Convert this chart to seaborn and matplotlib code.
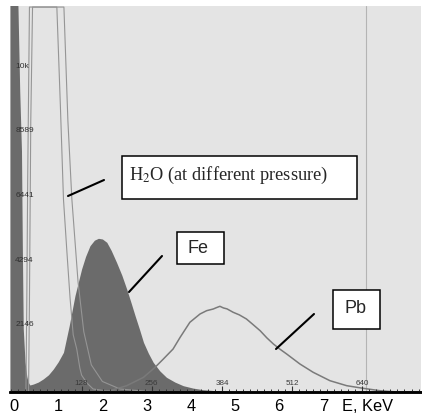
import matplotlib
matplotlib.use('Agg')
import matplotlib.pyplot as plt
from matplotlib.patches import Rectangle
from matplotlib.lines import Line2D
from matplotlib.ticker import MultipleLocator
import seaborn as sns

# Spectra (energy in keV, counts)
fe_kev = [-0.09, 0.05, 0.09, 0.13, 0.17, 0.19, 0.21, 0.25, 0.29, 0.32, 0.36, 0.44, 0.55,
          0.66, 0.78, 0.89, 1.0, 1.12, 1.25, 1.38, 1.53, 1.62, 1.72, 1.82, 1.91, 2.0,
          2.10, 2.2, 2.32, 2.44, 2.55, 2.65, 2.74, 2.84, 2.93, 3.04, 3.15, 3.3, 3.45,
          3.64, 3.83, 4.05, 4.28, 4.6, 5.0, 5.5]
fe_counts = [13500, 13500, 12800, 10000, 8000, 4700, 2100, 1000, 520, 330, 232, 265, 330,
             431, 570, 763, 1000, 1318, 2201, 3197, 4083, 4500, 4857, 5040, 5102, 5080,
             4970, 4700, 4306, 3880, 3419, 2960, 2533, 2080, 1650, 1290, 986, 700, 488,
             330, 209, 130, 76, 40, 15, 0]

h2o_a_kev = [0.33, 0.35, 0.38, 0.42, 0.97, 1.05, 1.12, 1.2, 1.27, 1.34, 1.42, 1.49, 1.53,
             1.65, 1.79, 2.1, 2.6]
h2o_a_counts = [0, 3000, 9000, 12780, 12780, 9500, 6400, 4600, 3100, 1900, 1430, 800, 560,
                300, 100, 30, 0]

h2o_b_kev = [0.27, 0.29, 0.31, 0.35, 1.13, 1.22, 1.31, 1.45, 1.58, 1.75, 2.0, 2.4, 3.0, 3.5]
h2o_b_counts = [0, 3000, 7000, 12780, 12780, 9000, 6400, 3650, 2000, 900, 350, 100, 20, 0]

pb_kev = [1.6, 2.17, 2.55, 2.93, 3.19, 3.38, 3.60, 3.76, 3.98, 4.21, 4.36, 4.51, 4.58,
          4.66, 4.74, 4.82, 4.96, 5.1, 5.26, 5.4, 5.57, 5.72, 5.87, 6.02, 6.17, 6.47,
          6.77, 7.15, 7.53, 7.90, 8.28, 8.66, 9.2]
pb_counts = [0, 43, 209, 486, 816, 1095, 1427, 1816, 2314, 2590, 2700, 2756, 2800,
             2845, 2790, 2760, 2646, 2560, 2424, 2250, 2035, 1800, 1594, 1420, 1262, 930,
             654, 375, 209, 123, 43, 0, 0]

kev_ticks = [0, 1, 2, 3, 4, 5, 6, 7, 8]
kev_labels = ['0', '1', '2', '3', '4', '5', '6', '7', 'E, KeV']
count_ticks = [2146, 4294, 6441, 8589, 10736]
count_labels = ['2146', '4294', '6441', '8589', '10k']
channel_ticks = [128, 256, 384, 512, 640]
marker_kev = 7.96

sns.set_theme(style='white')
plt.rcParams['font.family'] = ['Liberation Sans', 'DejaVu Sans']
plt.rcParams['mathtext.fontset'] = 'stix'

W, H = 422, 414
fig = plt.figure(figsize=(W / 100, H / 100), dpi=100)
ax = fig.add_axes([10 / W, 21 / H, 411 / W, 386 / H])
ax.set_facecolor('#e4e4e4')
ax.set_axisbelow(False)  # tick labels sit on top of the spectra

# spectra
ax.fill_between(fe_kev, fe_counts, color='#6b6b6b', lw=0, zorder=1.2)
sns.lineplot(x=h2o_a_kev, y=h2o_a_counts, ax=ax, color='#959595', lw=0.8, estimator=None, zorder=1.4)
sns.lineplot(x=h2o_b_kev, y=h2o_b_counts, ax=ax, color='#959595', lw=0.8, estimator=None, zorder=1.4)
sns.lineplot(x=pb_kev, y=pb_counts, ax=ax, color='#7a7a7a', lw=1.1, estimator=None, zorder=1.4)
ax.axvline(marker_kev, color='#b4b4b4', lw=0.8, zorder=1)

ax.set_xlim(-0.09, 9.21)
ax.set_ylim(0, 12815)
ax.set_xlabel('')
ax.set_ylabel('')

# energy axis
ax.set_xticks(kev_ticks)
ax.set_xticklabels(kev_labels)
ax.tick_params(axis='x', length=0, pad=4.5, labelsize=11.8, labelcolor='black')

# count axis, labels inside
ax.set_yticks(count_ticks)
ax.set_yticklabels(count_labels)
ax.yaxis.set_minor_locator(MultipleLocator(count_ticks[0] / 10))
ax.tick_params(axis='y', which='major', direction='in', length=5, width=0.8, color='#555555',
               pad=-3.8, labelsize=6, labelcolor='#303030')
ax.tick_params(axis='y', which='minor', direction='in', length=3, width=0.7, color='#555555')
for lab in ax.get_yticklabels():
    lab.set_ha('left')
    lab.set_va('bottom')

# channel axis, labels inside
sec = ax.secondary_xaxis('bottom', functions=(lambda k: (k + 0.057) * 80.6,
                                              lambda c: c / 80.6 - 0.057))
sec.set_zorder(3)
sec.set_xticks(channel_ticks)
sec.xaxis.set_minor_locator(MultipleLocator(12.8))
sec.tick_params(which='major', direction='in', length=4, width=0.8, color='#333333',
                pad=-9.2, labelsize=5.8, labelcolor='#3a3a3a')
sec.tick_params(which='minor', direction='in', length=2.5, width=0.7, color='#333333')
sec.spines['bottom'].set_color('black')
sec.spines['bottom'].set_linewidth(1.8)

for side in ['top', 'right', 'left']:
    ax.spines[side].set_visible(False)
ax.spines['bottom'].set_color('black')
ax.spines['bottom'].set_linewidth(1.8)


def fig_xy(x, y):
    return x / W, 1 - y / H


# labels with boxes and pointers
boxes = [(121.5, 157, 357, 200), (176.5, 233, 223.5, 265), (332.7, 290.7, 380, 330)]
for x0, y0, x1, y1 in boxes:
    fig.add_artist(Rectangle(fig_xy(x0, y1), (x1 - x0) / W, (y1 - y0) / H,
                             transform=fig.transFigure, fc='white', ec='black',
                             lw=1.1, zorder=3))

pointers = [(68, 197, 104, 181), (162, 257, 129, 293), (314, 315, 276, 350)]
for x0, y0, x1, y1 in pointers:
    fig.add_artist(Line2D([x0 / W, x1 / W], [1 - y0 / H, 1 - y1 / H],
                          transform=fig.transFigure, color='black', lw=1.5, zorder=3))

fig.text(*fig_xy(129, 180), 'H$_2$O (at different pressure)',
         family=['Liberation Serif', 'DejaVu Serif'], fontsize=13.2,
         ha='left', va='baseline', zorder=4)
fig.text(*fig_xy(198, 249), 'Fe', fontsize=13, ha='center', va='center', zorder=4)
fig.text(*fig_xy(355, 309), 'Pb', fontsize=13, ha='center', va='center', zorder=4)

fig.savefig('out.png', dpi=100)
